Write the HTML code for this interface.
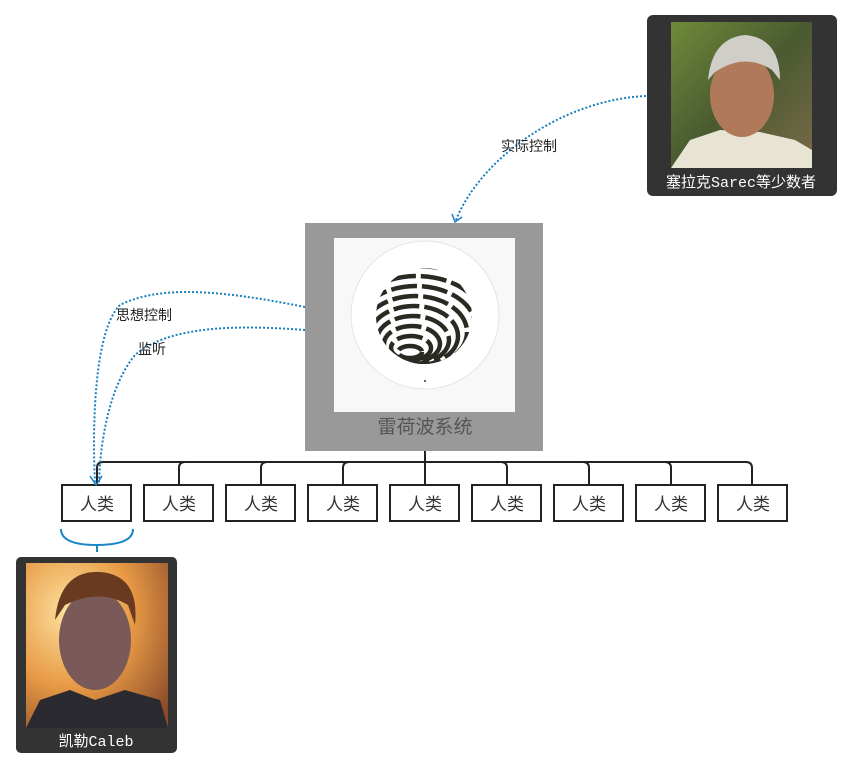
<!DOCTYPE html>
<html><head><meta charset="utf-8"><style>
body{margin:0;background:#fff;}
svg{display:block;font-family:"Liberation Sans","Noto Sans CJK SC",sans-serif;}
</style></head><body>
<svg width="853" height="771" viewBox="0 0 853 771" xmlns="http://www.w3.org/2000/svg">
<defs>
<radialGradient id="cb" cx="0.3" cy="0.3" r="0.9">
<stop offset="0" stop-color="#fde2a0"/><stop offset="0.5" stop-color="#e89a45"/><stop offset="1" stop-color="#8a4a2a"/>
</radialGradient>
<linearGradient id="sb" x1="0" y1="0" x2="1" y2="1">
<stop offset="0" stop-color="#6f8a3a"/><stop offset="0.5" stop-color="#4a5a30"/><stop offset="1" stop-color="#7a6a4a"/>
</linearGradient>
<clipPath id="sph"><circle cx="424" cy="316" r="48"/></clipPath>
</defs>

<!-- Sarec node -->
<rect x="647" y="15" width="190" height="181" rx="6" fill="#333"/>
<rect x="671" y="22" width="141" height="146" fill="url(#sb)"/>
<path d="M671 168 L690 140 L720 130 L760 132 L795 140 L812 150 L812 168 Z" fill="#e8e4d4"/>
<ellipse cx="742" cy="95" rx="32" ry="42" fill="#b07a5a"/>
<path d="M708 80 Q712 38 745 35 Q780 38 780 80 L772 70 Q745 52 715 72 Z" fill="#cfcfc8"/>
<text x="741" y="187" font-size="15" fill="#fff" text-anchor="middle" font-family="Liberation Mono, Noto Sans CJK SC, monospace">塞拉克Sarec等少数者</text>

<!-- Rehoboam -->
<rect x="305" y="223" width="238" height="228" fill="#999"/>
<rect x="334" y="238" width="181" height="174" fill="#f8f8f8"/>
<circle cx="425" cy="315" r="74" fill="#fff" stroke="#e4e4e4"/>
<g clip-path="url(#sph)" fill="none" stroke="#2a2a22" stroke-width="4.5" stroke-dasharray="26 5">
<ellipse cx="410" cy="352" rx="12" ry="6"/>
<ellipse cx="411" cy="348" rx="20" ry="12"/>
<ellipse cx="412" cy="344" rx="28" ry="18"/>
<ellipse cx="413" cy="340" rx="36" ry="24"/>
<ellipse cx="414" cy="336" rx="44" ry="30"/>
<ellipse cx="415" cy="332" rx="52" ry="36"/>
<ellipse cx="416" cy="328" rx="60" ry="42"/>
<ellipse cx="417" cy="324" rx="68" ry="48"/>
<ellipse cx="418" cy="320" rx="76" ry="54"/>
<ellipse cx="419" cy="316" rx="84" ry="60"/>
</g>
<circle cx="425" cy="381" r="1" fill="#333"/>
<text x="425" y="433" font-size="19" fill="#555" text-anchor="middle">雷荷波系统</text>

<!-- tree -->
<g fill="none" stroke="#222" stroke-width="2">
<line x1="425" y1="451" x2="425" y2="485"/>
<path d="M97 485 V468 Q97 462 103 462 H746 Q752 462 752 468 V485"/>
<path d="M179 485 V468 Q179 462 185 462"/>
<path d="M261 485 V468 Q261 462 267 462"/>
<path d="M343 485 V468 Q343 462 349 462"/>
<path d="M507 485 V468 Q507 462 501 462"/>
<path d="M589 485 V468 Q589 462 583 462"/>
<path d="M671 485 V468 Q671 462 665 462"/>
</g>
<g fill="#fff" stroke="#222" stroke-width="2">
<rect x="62" y="485" width="69" height="36"/>
<rect x="144" y="485" width="69" height="36"/>
<rect x="226" y="485" width="69" height="36"/>
<rect x="308" y="485" width="69" height="36"/>
<rect x="390" y="485" width="69" height="36"/>
<rect x="472" y="485" width="69" height="36"/>
<rect x="554" y="485" width="69" height="36"/>
<rect x="636" y="485" width="69" height="36"/>
<rect x="718" y="485" width="69" height="36"/>
</g>
<g font-size="17" fill="#333" text-anchor="middle">
<text x="97" y="510">人类</text><text x="179" y="510">人类</text><text x="261" y="510">人类</text>
<text x="343" y="510">人类</text><text x="425" y="510">人类</text><text x="507" y="510">人类</text>
<text x="589" y="510">人类</text><text x="671" y="510">人类</text><text x="753" y="510">人类</text>
</g>

<!-- brace -->
<path d="M61 529 Q61 545 97 545 Q133 545 133 529 M97 545 V552" fill="none" stroke="#1a86c8" stroke-width="2"/>

<!-- Caleb -->
<rect x="16" y="557" width="161" height="196" rx="5" fill="#333"/>
<rect x="26" y="563" width="142" height="165" fill="url(#cb)"/>
<ellipse cx="95" cy="640" rx="36" ry="50" fill="#7a5a58"/>
<path d="M55 620 Q60 570 100 572 Q140 575 135 625 L128 605 Q100 588 65 605 Z" fill="#6a3a20"/>
<path d="M26 728 L40 700 L70 690 L95 700 L125 690 L160 700 L168 728 Z" fill="#2a2a30"/>
<text x="96" y="746" font-size="15" fill="#fff" text-anchor="middle" font-family="Liberation Mono, Noto Sans CJK SC, monospace">凯勒Caleb</text>

<!-- dotted connectors -->
<g fill="none" stroke="#1a7fc0" stroke-width="2" stroke-dasharray="2 2">
<path d="M646 96 C560 100 480 160 456 220"/>
<path d="M305 307 C220 290 160 285 120 305 C95 330 92 420 95 484"/>
<path d="M305 330 C240 325 170 325 135 355 C110 385 100 440 99 484"/>
</g>
<g fill="none" stroke="#1a7fc0" stroke-width="1.5">
<path d="M452 214 L455 222 L462 217"/>
<path d="M90 476 L96 485 L102 476"/>
</g>
<g font-size="14" fill="#222">
<text x="501" y="151">实际控制</text>
<text x="116" y="320">思想控制</text>
<text x="138" y="354">监听</text>
</g>
</svg>
</body></html>
